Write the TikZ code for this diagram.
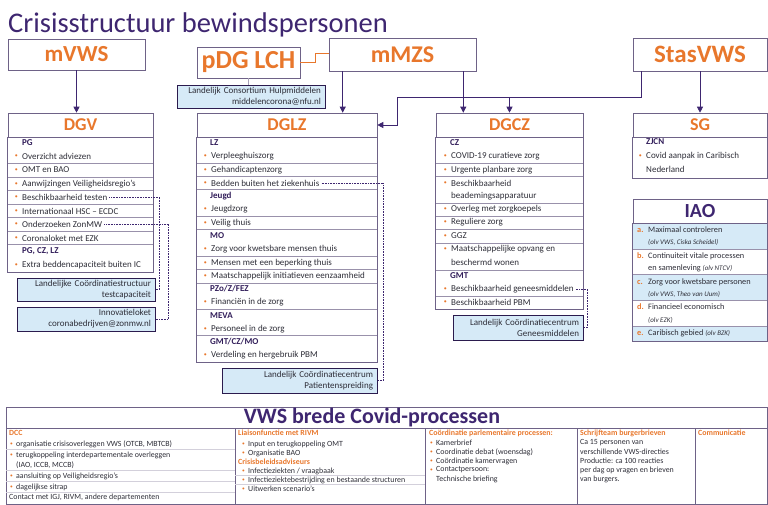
\documentclass[tikz,border=0pt]{standalone}
\usepackage{fontspec}
\setmainfont{Carlito}
\usetikzlibrary{arrows.meta}

\definecolor{vwspurple}{RGB}{62,38,112}
\definecolor{vwsorange}{RGB}{232,119,44}
\definecolor{vwsblue}{RGB}{214,234,247}
\definecolor{vwsline}{RGB}{110,98,135}
\definecolor{vwstext}{RGB}{45,45,55}

\newcommand{\bodyfont}{\fontsize{9}{11}\selectfont}
\newcommand{\bandfont}{\fontsize{7.9}{9}\selectfont}
\newcommand{\olv}[1]{{\fontsize{7}{8}\selectfont\itshape #1}}

\tikzset{
  topbox/.style={draw=vwsline, fill=white, text=vwsorange, font=\fontsize{24}{24}\selectfont\bfseries, inner sep=0pt, line width=0.6pt},
  dghead/.style={draw=vwsline, text=vwsorange, font=\fontsize{18}{18}\selectfont\bfseries, minimum height=24pt, inner sep=0pt, line width=0.6pt},
  boxframe/.style={draw=vwsline, line width=0.6pt},
  sepline/.style={draw=vwsline!70, line width=0.4pt},
  faintline/.style={draw=vwsline!30, line width=0.3pt},
  grp/.style={anchor=west, inner sep=0pt, text=vwspurple!80!black, font=\bodyfont\bfseries},
  item/.style={anchor=west, inner sep=0pt, text=vwstext, font=\bodyfont,
    label={[text=vwsorange, inner sep=0pt, font=\fontsize{6}{6}\selectfont, label distance=4pt]left:•}},
  cont/.style={anchor=west, inner sep=0pt, text=vwstext, font=\bodyfont},
  bluebox/.style={draw=vwspurple!70!black, fill=vwsblue, line width=0.9pt, inner xsep=4pt, inner ysep=1.5pt,
    minimum height=23pt, align=right, text=vwstext, font=\bodyfont},
  iaoletter/.style={anchor=west, inner sep=0pt, text=vwsorange, font=\fontsize{8.3}{10}\selectfont\bfseries},
  iaotext/.style={anchor=west, inner sep=0pt, text=vwstext, font=\fontsize{8.3}{10}\selectfont},
  bandhead/.style={anchor=west, inner sep=0pt, text=vwsorange, font=\bandfont\bfseries},
  banditem/.style={anchor=west, inner sep=0pt, text=vwstext, font=\bandfont,
    label={[text=vwsorange, inner sep=0pt, font=\fontsize{5.5}{5.5}\selectfont, label distance=3pt]left:•}},
  bandtext/.style={anchor=west, inner sep=0pt, text=vwstext, font=\bandfont},
  conn/.style={draw=vwspurple, line width=0.8pt},
  dotline/.style={draw=vwspurple, line width=0.6pt, densely dotted},
}

\begin{document}
\begin{tikzpicture}[x=1pt, y=-1pt, >={Triangle[length=6pt, width=6pt]}]
  \useasboundingbox (0,0) rectangle (768,505);

  % --- TITLE ---
  \node[anchor=base west, inner sep=0pt, text=vwspurple, font=\fontsize{28.5}{28.5}\selectfont] (title) at (8,33) {Crisisstructuur bewindspersonen};

  % --- BEWINDSPERSONEN ---
  \node[topbox, minimum width=137pt, minimum height=31pt, font=\fontsize{23}{23}\selectfont\bfseries] (mvws) at (76.5,54.5) {mVWS};
  \node[topbox, minimum width=103pt, minimum height=31pt, font=\fontsize{26}{26}\selectfont\bfseries] (pdglch) at (248.5,62.5) {pDG LCH};
  \node[topbox, minimum width=147pt, minimum height=33pt] (mmzs) at (402.5,54.5) {mMZS};
  \node[topbox, minimum width=134pt, minimum height=33pt, font=\fontsize{25}{25}\selectfont\bfseries] (stasvws) at (700,54.5) {StasVWS};

  \node[bluebox, text width=140pt] (consort) at (251,96.5) {Landelijk Consortium Hulpmiddelen\\middelencorona@nfu.nl};
  \draw[vwsline!60, line width=0.4pt] (pdglch.south) -- (pdglch.south |- consort.north);
  % orange link pDG LCH - mMZS
  \draw[vwsorange, line width=0.6pt] (pdglch.east) -- ++(15pt,0) |- ([yshift=1.5pt]mmzs.west);

  % --- DGV ---
  \node[dghead, minimum width=145pt] (dgv) at (80.5,125) {DGV};
  \draw[boxframe] (dgv.south west) rectangle (153,272);
  \foreach \y in {163,177,190,204,217,231,244}
    \draw[sepline] (8,\y) -- (153,\y);
  \node[grp] (dgv-pg) at (22,143) {PG};
  \node[grp] (dgv-pgczlz) at (22,251) {PG, CZ, LZ};
  \foreach \y/\t [count=\i] in {156/{Overzicht adviezen}, 170/{OMT en BAO}, 184/{Aanwijzingen Veiligheidsregio's},
      197/{Beschikbaarheid testen}, 211/{Internationaal HSC – ECDC}, 224/{Onderzoeken ZonMW},
      238/{Coronaloket met EZK}, 265/{Extra beddencapaciteit buiten IC}}
    \node[item] (dgv-\i) at (22,\y) {\t};

  \node[bluebox, text width=130pt] (lcs) at (86,289.5) {Landelijke Coördinatiestructuur\\testcapaciteit};
  \node[bluebox, text width=130pt, minimum height=24pt] (innov) at (86,319) {Innovatieloket\\coronabedrijven@zonmw.nl};
  \draw[dotline] ([xshift=2pt]dgv-4.east) -| ([xshift=4pt]lcs.east) -- (lcs.east);
  \draw[dotline] ([xshift=2pt]dgv-6.east) -| ([xshift=13pt]innov.east) -- (innov.east);

  % --- DGLZ ---
  \node[dghead, minimum width=180pt] (dglz) at (287,125) {DGLZ};
  \draw[boxframe] (dglz.south west) rectangle (377,362);
  \foreach \y in {163,176,189,216,229,256,269,283,309,335}
    \draw[sepline] (197,\y) -- (377,\y);
  \foreach \y/\t [count=\i] in {143/LZ, 196/Jeugd, 236/MO, 289/{PZo/Z/FEZ}, 316/MEVA, 342/{GMT/CZ/MO}}
    \node[grp] (dglz-g\i) at (210,\y) {\t};
  \foreach \y/\t [count=\i] in {156/Verpleeghuiszorg, 170/Gehandicaptenzorg, 183/{Bedden buiten het ziekenhuis},
      209/Jeugdzorg, 223/{Veilig thuis}, 249/{Zorg voor kwetsbare mensen thuis}, 263/{Mensen met een beperking thuis},
      276/{Maatschappelijk initiatieven eenzaamheid}, 302/{Financiën in de zorg}, 329/{Personeel in de zorg},
      355/{Verdeling en hergebruik PBM}}
    \node[item] (dglz-\i) at (211,\y) {\t};

  \node[bluebox, text width=147pt, minimum height=25pt] (lcp) at (299.5,380.5) {Landelijk Coördinatiecentrum\\Patientenspreiding};
  \draw[dotline] ([xshift=2pt]dglz-3.east) -| ([xshift=6pt]lcp.east) -- (lcp.east);

  % --- DGCZ ---
  \node[dghead, minimum width=147pt] (dgcz) at (509.5,125) {DGCZ};
  \draw[boxframe] (dgcz.south west) rectangle (583,309);
  \foreach \y in {163,176,203,216,229,243,270,296}
    \draw[sepline] (436,\y) -- (583,\y);
  \node[grp] (dgcz-cz) at (450,143) {CZ};
  \node[grp] (dgcz-gmt) at (450,276) {GMT};
  \foreach \y/\t [count=\i] in {156/{COVID-19 curatieve zorg}, 170/{Urgente planbare zorg}, 183/Beschikbaarheid,
      209/{Overleg met zorgkoepels}, 222/{Reguliere zorg}, 236/GGZ, 249/{Maatschappelijke opvang en},
      289/{Beschikbaarheid geneesmiddelen}, 302/{Beschikbaarheid PBM}}
    \node[item] (dgcz-\i) at (451,\y) {\t};
  \node[cont] (dgcz-c1) at (451,196) {beademingsapparatuur};
  \node[cont] (dgcz-c2) at (451,262) {beschermd wonen};

  \node[bluebox, text width=122pt, minimum height=25pt] (lcg) at (518,327.5) {Landelijk Coördinatiecentrum\\Geneesmiddelen};
  \draw[dotline] ([xshift=2pt]dgcz-8.east) -| ([xshift=4pt]lcg.east) -- (lcg.east);

  % --- SG ---
  \node[dghead, minimum width=134pt] (sg) at (700,125) {SG};
  \draw[boxframe] (sg.south west) rectangle (767,178);
  \node[grp] (sg-zjcn) at (646,142) {ZJCN};
  \node[item] (sg-1) at (646,156) {Covid aanpak in Caribisch};
  \node[cont] (sg-c1) at (646,169) {Nederland};

  % --- IAO ---
  \node[dghead, text=vwspurple, font=\fontsize{20}{20}\selectfont\bfseries, minimum width=134pt] (iao) at (700,211) {IAO};
  \fill[vwsblue] (633,223) rectangle (767,249);
  \fill[vwsblue] (633,274) rectangle (767,300);
  \fill[vwsblue] (633,326) rectangle (767,341);
  \foreach \y in {249,274,300,326}
    \draw[sepline] (633,\y) -- (767,\y);
  \draw[boxframe] (iao.south west) rectangle (767,341);
  \foreach \l/\y/\t in {a/230/{Maximaal controleren}, b/256/{Continuiteit vitale processen},
      c/282/{Zorg voor kwetsbare personen}, d/307/{Financieel economisch}, e/333/{Caribisch gebied \olv{(olv BZK)}}} {
    \node[iaoletter] (iao-\l) at (637,\y) {\l.};
    \node[iaotext] (iao-\l-1) at (648,\y) {\t};
  }
  \foreach \l/\y/\t in {a/242/{\olv{(olv VWS, Ciska Scheidel)}}, b/268/{en samenleving \olv{(olv NTCV)}},
      c/294/{\olv{(olv VWS, Theo van Uum)}}, d/320/{\olv{(olv EZK)}}}
    \node[iaotext] (iao-\l-2) at (648,\y) {\t};

  % --- CONNECTORS ---
  \draw[conn, ->] (mvws.south) -- (mvws.south |- dgv.north);
  \draw[conn, ->] ([xshift=14pt]mmzs.south west) -- ([xshift=14pt]mmzs.south west |- dglz.north);
  \draw[conn, ->] ([xshift=-13pt]mmzs.south east) -- ([xshift=-13pt]mmzs.south east |- dgcz.north);
  \draw[conn, ->] (stasvws.south) -- (sg.north);
  \coordinate (bend) at (397,97);
  \draw[conn, ->] ([xshift=9pt]stasvws.south west) |- (bend) |- (dglz.east);
  \draw[conn, ->] (dgcz.north |- bend) -- (dgcz.north);

  % --- VWS BREDE COVID-PROCESSEN ---
  \draw[boxframe] (6,407) rectangle (767,504);
  \draw[boxframe] (6,428) -- (767,428);
  \foreach \x in {235,425,577,695}
    \draw[boxframe] (\x,428) -- (\x,504);
  \node[inner sep=0pt, text=vwspurple, font=\fontsize{22}{22}\selectfont\bfseries] (band) at (372,418) {VWS brede Covid-processen};

  % DCC
  \node[bandhead] (dcc) at (9,433) {DCC};
  \foreach \y/\t [count=\i] in {444/{organisatie crisisoverleggen VWS (OTCB, MBTCB)}, 455/{terugkoppeling interdepartementale overleggen},
      476/{aansluiting op Veiligheidsregio's}, 487/{dagelijkse sitrap}}
    \node[banditem] (dcc-\i) at (16,\y) {\t};
  \node[bandtext] (dcc-iao) at (16,465) {(IAO, ICCB, MCCB)};
  \node[bandtext] (dcc-contact) at (9,497) {Contact met IGJ, RIVM, andere departementen};
  \foreach \y in {449.5,470.5,481.5,492}
    \draw[faintline] (6,\y) -- (235,\y);

  % RIVM
  \node[bandhead] (rivm) at (238,433) {Liaisonfunctie met RIVM};
  \node[banditem] (rivm-1) at (248,444) {Input en terugkoppeling OMT};
  \node[banditem] (rivm-2) at (248,453) {Organisatie BAO};
  \node[bandhead] (cba) at (238,462) {Crisisbeleidsadviseurs};
  \foreach \y/\t [count=\i] in {471/{Infectieziekten / vraagbaak}, 480/{Infectieziektebestrijding en bestaande structuren},
      489/{Uitwerken scenario's}}
    \node[banditem] (cba-\i) at (248,\y) {\t};
  \foreach \y in {475.5,484.5}
    \draw[faintline] (235,\y) -- (425,\y);

  % parlementaire processen
  \node[bandhead] (parl) at (429,433) {Coördinatie parlementaire processen:};
  \foreach \y/\t [count=\i] in {443/Kamerbrief, 452/{Coordinatie debat (woensdag)}, 461/{Coördinatie kamervragen},
      470/{Contactpersoon:}}
    \node[banditem] (parl-\i) at (436,\y) {\t};
  \node[bandtext] (parl-tb) at (436,479) {Technische briefing};

  % burgerbrieven
  \node[bandhead] (brief) at (580,433) {Schrijfteam burgerbrieven};
  \foreach \y/\t [count=\i] in {443/{Ca 15 personen van}, 452/{verschillende VWS-directies}, 461/{Productie: ca 100 reacties},
      470/{per dag op vragen en brieven}, 479/{van burgers.}}
    \node[bandtext] (brief-\i) at (580,\y) {\t};

  % communicatie
  \node[bandhead] (comm) at (698,433) {Communicatie};
\end{tikzpicture}
\end{document}
